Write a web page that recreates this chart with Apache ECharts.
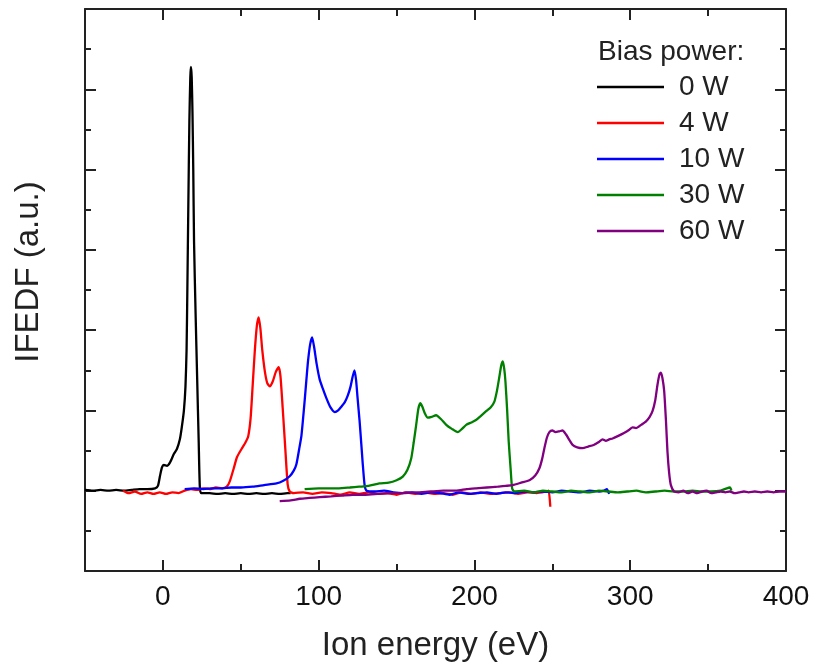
<!DOCTYPE html>
<html>
<head>
<meta charset="utf-8">
<title>IFEDF vs ion energy</title>
<script src="https://cdn.jsdelivr.net/npm/echarts@6/dist/echarts.min.js"></script>
<style>
  html, body { margin: 0; padding: 0; background: #fff; }
  #chart { width: 813px; height: 667px; }
</style>
</head>
<body>
<div id="chart"></div>
<script>
// Ion energy (eV) / IFEDF (a.u.) pairs for each bias power
const bias0W = [
  [-50,0.01],[-45,0.0],[-40,0.01],[-35,0.0],[-30,0.01],[-25,0.0],[-20,0.01],[-15,0.02],[-10,0.02],[-5,0.03],
  [-3.2,0.06],[-1.9,0.18],[-0.6,0.29],[0.6,0.32],[2.6,0.31],[4.5,0.35],[7.1,0.46],[9,0.52],[10.9,0.64],[12.2,0.8],
  [13.5,1.0],[14.5,1.3],[15.2,1.75],[15.7,2.5],[16.3,3.5],[17.0,4.6],[17.6,5.15],[18.0,5.28],[18.5,5.15],[19.0,4.7],
  [19.5,4.0],[20.0,3.1],[21.0,2.2],[22.0,1.4],[23.0,0.6],[23.7,0.05],[24.5,-0.03],[30,-0.03],[35,-0.04],[40,-0.03],
  [45,-0.04],[50,-0.03],[55,-0.04],[60,-0.03],[65,-0.04],[70,-0.03],[75,-0.04],[80,-0.03],[82,-0.03]
];
const bias4W = [
  [-25.6,0.0],[-22,-0.03],[-18,-0.01],[-14,-0.04],[-10,-0.02],[-6,-0.04],[-2,-0.02],[2,-0.04],[6,-0.02],[10,-0.03],
  [14,0.0],[18,0.02],[22,0.01],[26,0.03],[30,0.02],[34,0.04],[38,0.03],[41,0.05],[43,0.12],[45.5,0.28],
  [47.6,0.42],[50.5,0.52],[53,0.6],[54.8,0.68],[56.3,0.9],[57.6,1.3],[59,1.74],[60.3,2.05],[61.5,2.16],[62.6,2.02],
  [63.8,1.75],[65.5,1.48],[67,1.34],[68.6,1.3],[70.5,1.36],[72.5,1.48],[74.4,1.54],[75.5,1.42],[76.9,1.03],[78.5,0.55],
  [80.1,0.08],[81.4,-0.01],[84,-0.03],[90,-0.02],[96,-0.04],[102,-0.02],[108,-0.03],[114,-0.05],[120,-0.02],[126,-0.04],
  [132,-0.02],[138,-0.04],[144,-0.03],[150,-0.05],[156,-0.02],[162,-0.04],[168,-0.02],[174,-0.04],[180,-0.03],[186,-0.05],
  [192,-0.02],[198,-0.04],[204,-0.02],[210,-0.04],[216,-0.03],[222,-0.02],[228,-0.04],[234,-0.02],[240,-0.03],[246,-0.01],
  [247.6,0.0],[248.7,-0.2]
];
const bias10W = [
  [14,0.02],[20,0.03],[26,0.02],[32,0.03],[38,0.03],[44,0.04],[50,0.04],[57.7,0.05],[65,0.07],[72.9,0.09],
  [77,0.12],[81.4,0.18],[84,0.25],[85.7,0.33],[87.5,0.52],[88.9,0.68],[90,0.9],[91,1.12],[92.2,1.4],[93.2,1.62],
  [94.5,1.82],[95.8,1.91],[97,1.8],[98.7,1.58],[100.6,1.39],[102.5,1.28],[105,1.15],[107.5,1.04],[110.3,0.98],[112.5,1.0],
  [114.7,1.05],[116.7,1.1],[118.6,1.18],[120.5,1.3],[121.8,1.42],[123,1.5],[124,1.38],[125,1.15],[126.3,0.86],[127.3,0.6],
  [128.2,0.36],[129.5,0.07],[130.8,0.0],[136,-0.01],[142,0.0],[148,-0.02],[154,-0.03],[160,-0.02],[166,-0.04],[172,-0.02],
  [178,-0.03],[184,-0.05],[190,-0.02],[196,-0.04],[202,-0.03],[208,-0.02],[214,-0.04],[220,-0.02],[226,-0.03],[232,-0.01],
  [238,-0.02],[244,-0.01],[250,-0.02],[256,0.0],[262,-0.01],[268,-0.02],[274,0.0],[280,-0.01],[283,0.0],[285,0.02],[286.5,-0.04]
];
const bias30W = [
  [91,0.02],[100,0.03],[106,0.03],[113,0.03],[120,0.04],[126,0.05],[132,0.06],[139,0.09],[145,0.1],[150,0.13],
  [154,0.175],[157,0.26],[159.4,0.4],[161,0.6],[162.6,0.82],[164,1.02],[165.2,1.09],[166.5,1.05],[168,0.97],[170,0.91],
  [172.5,0.92],[175.4,0.94],[178.6,0.89],[181.9,0.82],[185.5,0.77],[189.3,0.73],[192,0.77],[194.7,0.82],[198,0.85],[201,0.88],
  [204,0.93],[207.5,0.99],[210.5,1.04],[212.8,1.11],[214.5,1.25],[216,1.42],[217.2,1.56],[218.2,1.61],[219.1,1.52],[219.9,1.36],
  [221,1.0],[222,0.61],[223.2,0.28],[224.2,0.03],[225.5,-0.01],[232,0.0],[238,-0.02],[244,0.0],[250,-0.01],[256,-0.02],
  [262,0.0],[268,-0.01],[274,-0.02],[280,0.0],[286,-0.01],[292,-0.02],[298,-0.01],[304,0.0],[310,-0.02],[316,-0.01],
  [322,0.0],[328,-0.01],[334,-0.01],[340,0.0],[346,-0.01],[352,-0.01],[358,0.0],[362,0.03],[364,0.04],[365,0.0]
];
const bias60W = [
  [75,-0.13],[82,-0.12],[88,-0.1],[94,-0.09],[100.6,-0.08],[108,-0.07],[115,-0.06],[122,-0.05],[130,-0.05],[138,-0.04],
  [146,-0.03],[154,-0.03],[164.7,-0.02],[172,-0.01],[180,0.0],[188,0.0],[195,0.02],[201,0.03],[208,0.04],[215,0.05],
  [220,0.06],[224.6,0.07],[230,0.1],[235.3,0.13],[239,0.19],[241.7,0.28],[243.5,0.4],[244.9,0.53],[246.5,0.66],[248.1,0.73],
  [250,0.75],[252,0.73],[254.5,0.74],[256.5,0.75],[258.8,0.7],[261,0.63],[263,0.57],[266,0.54],[269.4,0.53],[273,0.55],
  [276.5,0.57],[280.1,0.61],[282.2,0.64],[284.4,0.62],[286.5,0.64],[288.7,0.65],[292,0.68],[296,0.72],[299.4,0.76],[301.5,0.79],
  [303.7,0.78],[307,0.82],[310,0.86],[312.5,0.92],[314.3,0.99],[316,1.12],[317.5,1.32],[318.8,1.45],[319.7,1.47],[320.7,1.4],
  [321.8,1.24],[323,0.85],[323.9,0.49],[325,0.22],[326.1,0.07],[328.2,-0.01],[331,-0.02],[334,0.0],[337,-0.03],[340,-0.01],
  [343,-0.03],[346,-0.01],[349,0.0],[352,-0.03],[355,-0.02],[358,-0.01],[361,-0.02],[364,-0.01],[367,-0.03],[370,-0.02],
  [373,-0.01],[376,-0.02],[380,-0.01],[384,-0.02],[388,-0.01],[392,-0.02],[396,-0.01],[400,-0.01]
];

const seriesNames = ['0 W', '4 W', '10 W', '30 W', '60 W'];
const seriesData = [bias0W, bias4W, bias10W, bias30W, bias60W];
const seriesColors = ['#000000', '#ff0000', '#0000ff', '#008000', '#800080'];

const energyMajorTicks = [0, 100, 200, 300, 400];
const energyMinorTicks = [50, 150, 250, 350];

const FONT = '"Liberation Sans", Arial, Helvetica, sans-serif';
const frameLine = { color: '#222', width: 2 };

function energyAxis(position, ticks, tickLen, withLabels, withLine) {
  return {
    type: 'value',
    position: position,
    min: -50,
    max: 400,
    axisLine: { show: withLine, onZero: false, lineStyle: frameLine },
    axisTick: { show: true, inside: true, length: tickLen, customValues: ticks, lineStyle: frameLine },
    axisLabel: withLabels
      ? { show: true, customValues: ticks, margin: 12, fontSize: 28, fontFamily: FONT, color: '#111' }
      : { show: false },
    splitLine: { show: false }
  };
}

function signalAxis(position) {
  return {
    type: 'value',
    position: position,
    min: -1,
    max: 6,
    interval: 1,
    axisLine: { show: true, onZero: false, lineStyle: frameLine },
    axisTick: { show: true, inside: true, length: 11, lineStyle: frameLine },
    minorTick: { show: true, splitNumber: 2, length: 6, lineStyle: frameLine },
    axisLabel: { show: false },
    splitLine: { show: false }
  };
}

const bottomAxis = energyAxis('bottom', energyMajorTicks, 11, true, true);
bottomAxis.name = 'Ion energy (eV)';
bottomAxis.nameLocation = 'middle';
bottomAxis.nameGap = 58;
bottomAxis.nameTextStyle = { fontSize: 33, fontFamily: FONT, color: '#222' };

const chart = echarts.init(document.getElementById('chart'), null, { renderer: 'canvas' });
chart.setOption({
  backgroundColor: '#ffffff',
  animation: false,
  grid: { left: 85, right: 27, top: 9, bottom: 96 },
  xAxis: [
    bottomAxis,
    energyAxis('bottom', energyMinorTicks, 7, false, false),
    energyAxis('top', energyMajorTicks, 11, false, true),
    energyAxis('top', energyMinorTicks, 7, false, false)
  ],
  yAxis: [signalAxis('left'), signalAxis('right')],
  legend: {
    orient: 'vertical',
    left: 597,
    top: 73,
    padding: 0,
    icon: 'rect',
    itemWidth: 67,
    itemHeight: 2.4,
    itemGap: 8,
    selectedMode: false,
    data: seriesNames,
    textStyle: { fontSize: 28, fontFamily: FONT, color: '#222', lineHeight: 28, padding: [0, 0, 0, 10] }
  },
  graphic: [
    {
      type: 'text',
      left: 598,
      top: 38,
      style: { text: 'Bias power:', fontSize: 28, fontFamily: FONT, fill: '#222' }
    },
    {
      type: 'text',
      x: 29,
      y: 272,
      rotation: Math.PI / 2,
      style: {
        text: 'IFEDF (a.u.)', fontSize: 33, fontFamily: FONT, fill: '#222',
        textAlign: 'center', textVerticalAlign: 'middle'
      }
    }
  ],
  series: seriesNames.map((name, i) => ({
    name: name,
    type: 'line',
    xAxisIndex: 0,
    yAxisIndex: 0,
    data: seriesData[i],
    symbol: 'none',
    showSymbol: false,
    smooth: 0.2,
    color: seriesColors[i],
    itemStyle: { color: seriesColors[i] },
    lineStyle: { color: seriesColors[i], width: 2.3 },
    z: 2 + i
  }))
});
</script>
</body>
</html>
